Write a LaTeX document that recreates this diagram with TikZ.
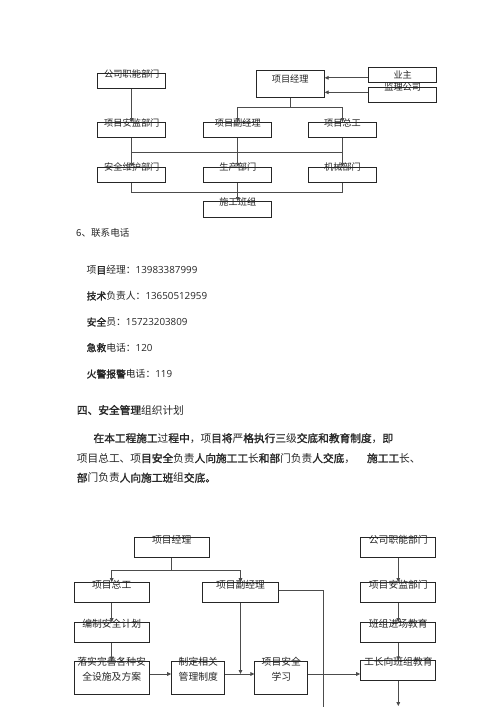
\documentclass[tikz,border=0pt]{standalone}
\usepackage{fontspec}
\setmainfont{Noto Sans CJK SC}[BoldFont={Noto Sans CJK SC}, BoldFeatures={FakeBold=1.6}]
\newfontfamily\numfont{Open Sans}
\usetikzlibrary{arrows.meta}

\definecolor{ink}{gray}{0.15}
\definecolor{wire}{gray}{0.3}
\newcommand{\bd}[1]{\textbf{#1}}

\tikzset{
  box/.style={draw=ink, line width=1pt, rectangle, inner sep=0pt},
  lbl/.style={inner sep=0pt, text=ink, font=\fontsize{9.2}{11}\selectfont},
  blbl/.style={inner sep=0pt, text=ink, align=center, font=\fontsize{9.8}{15}\selectfont},
  link/.style={draw=wire, line width=0.9pt},
  tip/.style={-{Triangle[length=4pt,width=3.6pt]}},
  txt/.style={anchor=west, inner sep=0pt, text=ink},
  ph/.style={txt, font=\fontsize{9.8}{12}\selectfont},
  body/.style={txt, font=\fontsize{10.7}{13}\selectfont}
}

\begin{document}
\begin{tikzpicture}[x=1pt, y=-1pt]
    \fill [white] (0, 0) rectangle (500, 707);
    \useasboundingbox (0, 0) rectangle (500, 707);

    % Upper chart: boxes
    \node [box, minimum width=68.3pt, minimum height=14.7pt] (gs) at (131.8, 80.7) {};
    \node [box, minimum width=68pt, minimum height=26.7pt] (pm) at (290.2, 84.3) {};
    \node [box, minimum width=68pt, minimum height=15pt] (yz) at (402.7, 74.8) {};
    \node [box, minimum width=68pt, minimum height=15.4pt] (jl) at (402.7, 95) {};

    \node [box, minimum width=68.3pt, minimum height=14.6pt] (ajb) at (131.8, 130) {};
    \node [box, minimum width=67.7pt, minimum height=14.6pt] (fjl) at (237.8, 130) {};
    \node [box, minimum width=68.3pt, minimum height=14.6pt] (zg) at (342.5, 130) {};

    \node [box, minimum width=68.3pt, minimum height=15pt] (aq) at (131.8, 174.8) {};
    \node [box, minimum width=67.7pt, minimum height=15pt] (sc) at (237.8, 174.8) {};
    \node [box, minimum width=68.3pt, minimum height=15pt] (jx) at (342.5, 174.8) {};

    \node [box, minimum width=67.7pt, minimum height=15.6pt] (bz) at (237.8, 209.5) {};

    % Upper chart: labels
    \node [lbl] (gs-t) at ([yshift=-1pt]gs.north) {公司职能部门};
    \node [lbl] (pm-t) at ([yshift=5pt]pm.center) {项目经理};
    \node [lbl] (yz-t) at (yz.center) {业主};
    \node [lbl] (jl-t) at ([yshift=-0.6pt]jl.north) {监理公司};
    \node [lbl] (ajb-t) at ([yshift=-1pt]ajb.north) {项目安监部门};
    \node [lbl] (fjl-t) at ([yshift=-1pt]fjl.north) {项目副经理};
    \node [lbl] (zg-t) at ([yshift=-1pt]zg.north) {项目总工};
    \node [lbl] (aq-t) at ([yshift=-0.5pt]aq.north) {安全维护部门};
    \node [lbl] (sc-t) at ([yshift=-0.5pt]sc.north) {生产部门};
    \node [lbl] (jx-t) at ([yshift=-0.5pt]jx.north) {机械部门};
    \node [lbl] (bz-t) at ([yshift=-1pt]bz.north) {施工班组};

    % Upper chart: connections
    \coordinate (s1) at (0, 107.3);
    \coordinate (s2) at (0, 152.7);
    \coordinate (s3) at (0, 192);

    \draw [link, tip] ([yshift=-3pt]yz.west) -- ([yshift=-3pt]yz.west -| pm.east);
    \draw [link, tip] ([yshift=2.7pt]jl.west) -- ([yshift=2.7pt]jl.west -| pm.east);

    \draw [link] (pm.south) -- (pm.south |- s1);
    \draw [link] (s1 -| fjl.north) -- (s1 -| zg.north);
    \draw [link, tip] (s1 -| fjl.north) -- (fjl.north);
    \draw [link, tip] (s1 -| zg.north) -- (zg.north);
    \draw [link, tip] (gs.south) -- (ajb.north);

    \draw [link] (s2 -| ajb.south) -- (s2 -| zg.south);
    \foreach \a/\b in {ajb/aq, fjl/sc, zg/jx}
      \draw [link, tip] (\a.south) -- (\b.north);

    \draw [link] (aq.south) |- (s3 -| jx.south) -- (jx.south);
    \draw [link, tip] (sc.south) -- (bz.north);

    % Phone list
    \node [txt, font=\fontsize{9.6}{12}\selectfont] (h6) at (76, 233.3) {6、联系电话};
    \node [ph] (tel1) at (86.5, 270) {项\bd{目}经理：\numfont 13983387999};
    \node [ph] (tel2) at (86.5, 296) {\bd{技术}负责人：\numfont 13650512959};
    \node [ph] (tel3) at (86.5, 322) {\bd{安全}员：\numfont 15723203809};
    \node [ph] (tel4) at (86.5, 347.7) {\bd{急救}电话：\numfont 120};
    \node [ph] (tel5) at (86.5, 374) {\bd{火警报警}电话：\numfont 119};

    % Section text
    \node [body] (h4) at (76.7, 410) {\bd{四、安全管理}组织计划};
    \node [body] (par1) at (93.3, 438.3)
          {\bd{在本工程施工}过\bd{程中}，项\bd{目将}严\bd{格执行三}级\bd{交底和教育制度}，\bd{即}};
    \node [body] (par2) at (76.7, 458.3)
          {项目总工、项\bd{目安全}负责\bd{人向施工工}长\bd{和部}门负责\bd{人交底}，\hspace{12pt}\bd{施工工}长、};
    \node [body] (par3) at (76.7, 477.7) {\bd{部}门负责\bd{人向施工班}组\bd{交底。}};

    % Lower chart: boxes
    \node [box, minimum width=75.3pt, minimum height=20pt] (bpm) at (171.7, 547.7) {};
    \node [box, minimum width=75.3pt, minimum height=20pt] (bgs) at (398.3, 547.7) {};

    \node [box, minimum width=75.3pt, minimum height=20pt] (bzg) at (111.7, 592.7) {};
    \node [box, minimum width=75.6pt, minimum height=20pt] (bfjl) at (240.5, 592.7) {};
    \node [box, minimum width=75.3pt, minimum height=20pt] (bajb) at (398.3, 592.7) {};

    \node [box, minimum width=75.3pt, minimum height=19.6pt] (bjh) at (111.7, 632.5) {};
    \node [box, minimum width=75.3pt, minimum height=19.6pt] (bjc) at (398.3, 632.5) {};

    \node [box, minimum width=75.3pt, minimum height=33.3pt] (lsh) at (111.7, 677.7) {};
    \node [box, minimum width=53.3pt, minimum height=33.3pt] (zd) at (198.3, 677.7) {};
    \node [box, minimum width=52.7pt, minimum height=33.3pt] (xx) at (281.3, 677.7) {};
    \node [box, minimum width=75.3pt, minimum height=19.7pt] (gz) at (398.3, 670.8) {};

    % Lower chart: labels
    \node [blbl] (bpm-t) at ([yshift=-2.3pt]bpm.north) {项目经理};
    \node [blbl] (bgs-t) at ([yshift=-2.3pt]bgs.north) {公司职能部门};
    \node [blbl] (bzg-t) at ([yshift=-2.3pt]bzg.north) {项目总工};
    \node [blbl] (bfjl-t) at ([yshift=-2.3pt]bfjl.north) {项目副经理};
    \node [blbl] (bajb-t) at ([yshift=-2.3pt]bajb.north) {项目安监部门};
    \node [blbl] (bjh-t) at ([yshift=-1.3pt]bjh.north) {编制安全计划};
    \node [blbl] (bjc-t) at ([yshift=-1.3pt]bjc.north) {班组进场教育};
    \node [blbl, anchor=north] (lsh-t) at ([yshift=4pt]lsh.north) {落实完善各种安\\全设施及方案};
    \node [blbl, anchor=north] (zd-t) at ([yshift=4pt]zd.north) {制定相关\\管理制度};
    \node [blbl, anchor=north] (xx-t) at ([yshift=4pt]xx.north) {项目安全\\学习};
    \node [blbl] (gz-t) at ([yshift=-1.3pt]gz.north) {工长向班组教育};

    % Lower chart: connections
    \coordinate (s4) at (0, 570);
    \coordinate (s5) at (0, 674);
    \coordinate (vend) at (323.3, 707);
    \coordinate (gzend) at (398.3, 706);

    \draw [link] (bpm.south) -- (bpm.south |- s4);
    \draw [link] (s4 -| bzg.north) -- (s4 -| bfjl.north);
    \draw [link, tip] (s4 -| bzg.north) -- (bzg.north);
    \draw [link, tip] (s4 -| bfjl.north) -- (bfjl.north);
    \draw [link, tip] (bgs.south) -- (bajb.north);

    \draw [link, tip] (bzg.south) -- (bjh.north);
    \draw [link, tip] (bjh.south) -- (lsh.north);
    \draw [link, tip] (bajb.south) -- (bjc.north);
    \draw [link, tip] (bjc.south) -- (gz.north);
    \draw [link, tip] (gz.south) -- (gzend);

    \draw [link] ([yshift=2.7pt]bfjl.east) -| (vend);

    \draw [link, tip] (lsh.east |- s5) -- (zd.west |- s5);
    \draw [link, tip] (zd.east |- s5) -- (xx.west |- s5);
    \draw [link, tip] (bfjl.south) -- (bfjl.south |- s5);
    \draw [link, tip] (xx.east |- s5) -- (gz.west |- s5);

\end{tikzpicture}
\end{document}
